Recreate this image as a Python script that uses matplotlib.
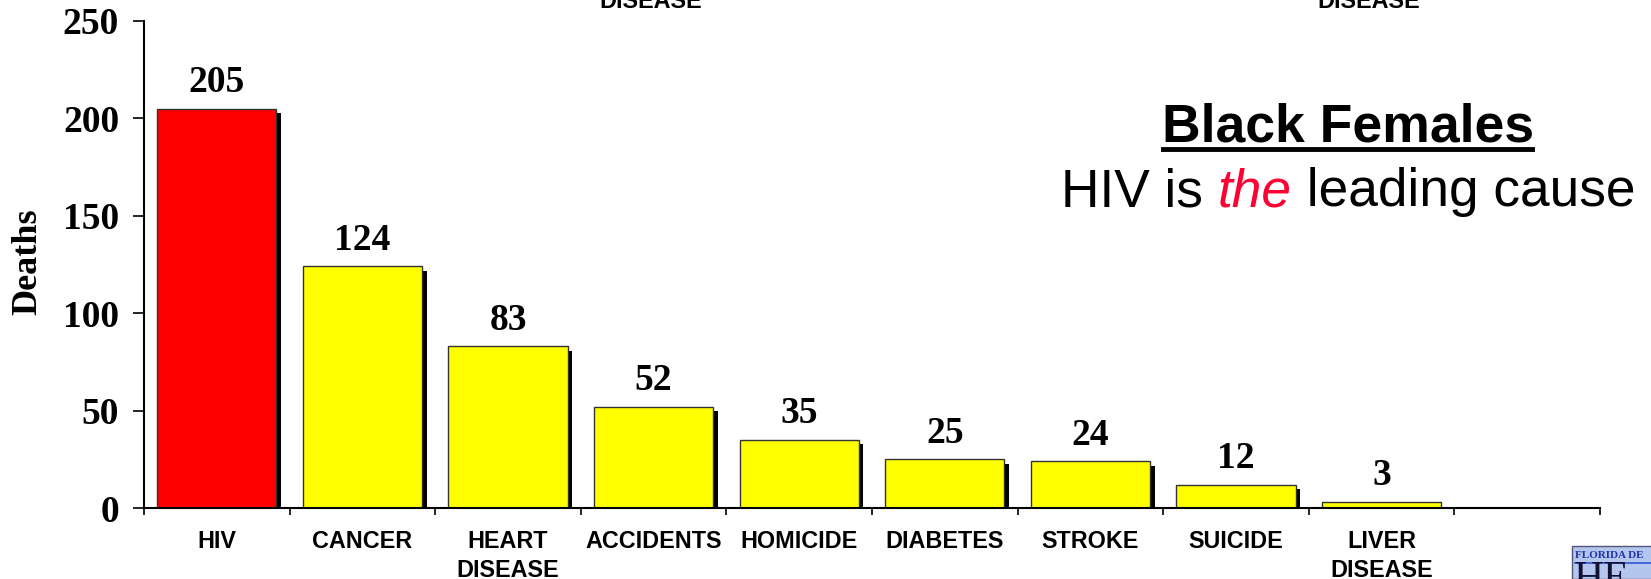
import matplotlib
matplotlib.use("Agg")
import matplotlib.pyplot as plt
import matplotlib.patheffects as pe
from matplotlib.patches import Rectangle

# datos del gráfico
causes = ['HIV', 'CANCER', 'HEART\nDISEASE', 'ACCIDENTS', 'HOMICIDE',
          'DIABETES', 'STROKE', 'SUICIDE', 'LIVER\nDISEASE']
deaths = [205, 124, 83, 52, 35, 25, 24, 12, 3]
bar_colors = ['#ff0000'] + ['#ffff00'] * 8
y_ticks = [0, 50, 100, 150, 200, 250]

W, H = 1651, 579
fig = plt.figure(figsize=(W / 100, H / 100), dpi=100)
ax = fig.add_axes([144 / W, 1 - 508 / H, (1600 - 144) / W, (508 - 21) / H])

x = list(range(len(causes)))
shadow = [pe.SimplePatchShadow(offset=(3.3, -3.3), shadow_rgbFace='black', alpha=1.0), pe.Normal()]
bars = ax.bar(x, deaths, width=0.82, color=bar_colors, edgecolor='#333333', linewidth=1.0)
for b in bars:
    b.set_path_effects(shadow)

for xi, v in zip(x, deaths):
    ax.annotate(str(v), (xi, v), xytext=(0, 12), textcoords='offset points',
                ha='center', va='baseline', fontsize=27, fontweight='bold',
                family='Liberation Serif')

ax.set_xlim(-0.5, len(causes) + 0.5)
ax.set_ylim(0, 250)
ax.set_yticks(y_ticks)
ax.set_yticklabels([str(t) for t in y_ticks], fontsize=27, fontweight='bold',
                   family='Liberation Serif')
ax.tick_params(axis='y', length=8, width=1.2, pad=10)

# etiquetas en el centro, marcas en los bordes de cada categoría
ax.set_xticks(x)
ax.set_xticklabels(causes, fontsize=16.8, fontweight='bold', family='Liberation Sans',
                   linespacing=1.3, va='top')
ax.tick_params(axis='x', length=0, pad=16)
ax.set_xticks([i - 0.5 for i in range(len(causes) + 2)], minor=True)
ax.tick_params(axis='x', which='minor', length=5, width=1.2)

for s in ['top', 'right']:
    ax.spines[s].set_visible(False)
for s in ['left', 'bottom']:
    ax.spines[s].set_linewidth(1.5)

fig.text(28 / W, 1 - 262 / H, 'Deaths', rotation=90, ha='center', va='center',
         fontsize=26, fontweight='bold', family='Liberation Serif')

# título
fig.text(1348 / W, 1 - 127 / H, 'Black Females', ha='center', va='center',
         fontsize=38.5, fontweight='bold', family='Liberation Sans')
fig.add_artist(plt.Line2D([1163 / W, 1532 / W], [1 - 149 / H, 1 - 149 / H],
                          color='black', linewidth=3.5))

fig.canvas.draw()
r = fig.canvas.get_renderer()
x0 = 1061
yb = 1 - 206 / H
parts = [('HIV is ', 'black', 'normal'), ('the', '#ff0033', 'italic'),
         (' leading cause', 'black', 'normal')]
for txt, col, sty in parts:
    t = fig.text(x0 / W, yb, txt, ha='left', va='baseline', fontsize=38.3,
                 color=col, style=sty, family='Liberation Sans')
    x0 += t.get_window_extent(renderer=r).width

# restos de la diapositiva anterior
for cx in [651, 1369]:
    fig.text(cx / W, 1 - 8 / H, 'DISEASE', ha='center', va='baseline',
             fontsize=16.8, fontweight='bold', family='Liberation Sans')

# logo cortado
fig.add_artist(Rectangle((1572 / W, 0), 90 / W, (579 - 546) / H, transform=fig.transFigure,
                         facecolor='#b4c6ee', edgecolor='#555577', linewidth=1))
fig.text(1575 / W, 1 - 555 / H, 'FLORIDA DE', ha='left', va='center', fontsize=8,
         fontweight='bold', color='#2233aa', family='Liberation Serif')
fig.add_artist(plt.Line2D([1575 / W, 1651 / W], [1 - 563 / H, 1 - 563 / H],
                          color='#3355dd', linewidth=1.2))
fig.text(1574 / W, 1 - 590 / H, 'HE', ha='left', va='baseline', fontsize=30,
         color='#111133', family='Liberation Serif')

fig.savefig('out.png', dpi=100)
